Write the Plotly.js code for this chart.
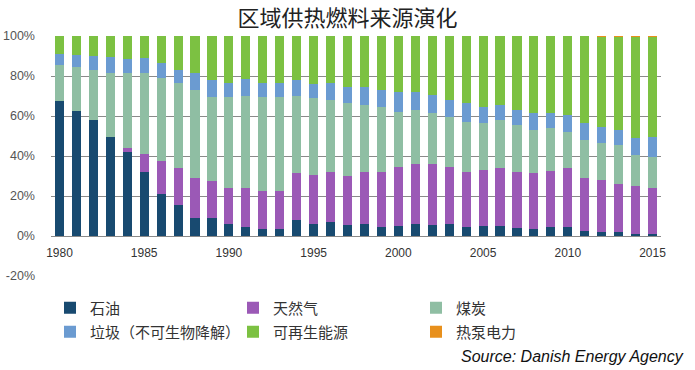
<!DOCTYPE html>
<html>
<head>
<meta charset="utf-8">
<script src="https://cdn.plot.ly/plotly-3.0.1.min.js"></script>
<style>html,body{margin:0;padding:0;background:#fff;}#chart{width:695px;height:370px;}</style>
</head>
<body>
<div id="chart"></div>
<script>
const years = [1980,1981,1982,1983,1984,1985,1986,1987,1988,1989,1990,1991,1992,1993,1994,1995,1996,1997,1998,1999,2000,2001,2002,2003,2004,2005,2006,2007,2008,2009,2010,2011,2012,2013,2014,2015];
const seriesNames = ["石油","天然气","煤炭","垃圾（不可生物降解）","可再生能源","热泵电力"];
const oil      = [67.7,62.5,58.2,49.3,41.8,32.2,20.8,15.3,9.2,9.2,6.2,4.5,3.5,3.5,8.0,5.8,7.2,5.5,6.2,4.7,4.8,5.8,5.5,6.0,4.7,5.2,5.2,3.8,3.5,4.7,4.5,2.5,2.2,1.8,1.0,0.8];
const gas      = [0,0,0,0,2.0,8.8,16.7,18.9,19.6,18.1,17.6,19.3,19.2,18.8,23.3,24.5,24.8,24.7,25.6,27.5,29.9,30.0,30.3,28.5,27.1,27.8,28.6,28.4,27.8,28.0,29.3,26.3,25.8,24.4,23.8,23.4];
const coal     = [17.8,22.2,25.0,32.4,37.5,40.3,41.3,42.1,44.2,42.4,45.9,46.2,47.0,47.4,38.7,38.5,36.0,36.1,33.7,32.1,27.5,27.2,25.5,25.2,25.4,23.3,24.2,23.3,21.7,21.1,18.4,19.2,18.3,19.3,15.7,15.5];
const waste    = [5.5,5.6,6.8,8.0,7.0,7.5,7.5,6.7,8.3,8.3,7.0,8.3,6.6,6.6,8.0,7.2,8.3,8.4,8.8,8.7,10.0,9.2,9.2,8.3,9.1,8.4,7.5,7.5,8.7,7.5,8.3,8.3,8.0,7.5,8.3,10.0];
const renew    = [9.0,9.7,10.0,10.3,11.7,11.2,13.7,17.0,18.7,22.0,23.3,21.7,23.7,23.7,22.0,24.0,23.7,25.3,25.7,27.0,27.8,27.8,29.5,32.0,33.7,35.3,34.5,37.0,38.3,38.7,39.5,43.5,45.2,46.4,50.6,49.7];
const heatpump = [0,0,0,0,0,0,0,0,0,0,0,0,0,0,0,0,0,0,0,0,0,0,0,0,0,0,0,0,0,0,0,0.2,0.5,0.6,0.6,0.6];
const xTicks = [1980,1985,1990,1995,2000,2005,2010,2015];
const yTicks = [-20,0,20,40,60,80,100];
const yTickText = ["-20%","0%","20%","40%","60%","80%","100%"];

const values = [oil, gas, coal, waste, renew, heatpump];
const colors = ["#184a70","#9b59b6","#8fbea3","#6b9bd1","#7cc142","#e8901c"];
const legendIds = ["legend","legend","legend","legend2","legend2","legend2"];

const traces = values.map((v,i)=>({
  type:"bar", x:years, y:v, name:seriesNames[i],
  marker:{color:colors[i], line:{width:0}},
  legend:legendIds[i], hoverinfo:"x+y+name"
}));

const legendFont = {family:"Noto Sans CJK SC, sans-serif", size:15, color:"#333"};
const legendBase = {orientation:"h", xref:"container", yref:"container", x:50/695, xanchor:"left", yanchor:"middle",
          entrywidth:138, entrywidthmode:"pixels", font:legendFont, bgcolor:"rgba(0,0,0,0)", traceorder:"normal"};
const layout = {
  width:695, height:370,
  margin:{l:51, r:34, t:36, b:94, pad:0},
  paper_bgcolor:"#fff", plot_bgcolor:"#fff",
  barmode:"stack", bargap:0.46,
  showlegend:true,
  title:{text:"区域供热燃料来源演化", font:{family:"Noto Sans CJK SC, sans-serif", size:22, color:"#222"},
         x:0.5, xanchor:"center", xref:"container", y:1-18/370, yanchor:"middle", yref:"container"},
  xaxis:{type:"linear", range:[1979.5,2015.5], tickvals:xTicks, ticktext:xTicks.map(String),
         showgrid:false, zeroline:false, showline:false, ticks:"",
         anchor:"free", position:20/120, ticklabelstandoff:8,
         tickfont:{family:"Liberation Sans, Arial, sans-serif", size:12, color:"#333"}},
  yaxis:{range:[-20,100], tickvals:yTicks, ticktext:yTickText, showgrid:true, gridcolor:"#8a8a8a", gridwidth:1,
         zeroline:true, zerolinecolor:"#8a8a8a", zerolinewidth:1, showline:false, ticks:"",
         ticklabelstandoff:15,
         tickfont:{family:"Liberation Sans, Arial, sans-serif", size:12.5, color:"#555"}},
  legend:Object.assign({}, legendBase, {y:1-308/370}),
  legend2:Object.assign({}, legendBase, {y:1-332/370}),
  annotations:[{text:"<i>Source: Danish Energy Agency</i>", xref:"paper", yref:"paper", showarrow:false,
                x:(686-51)/610, xanchor:"right", y:-(356-276)/240, yanchor:"middle",
                font:{family:"Liberation Sans, Arial, sans-serif", size:16, color:"#111"}}]
};
Plotly.newPlot("chart", traces, layout, {displayModeBar:false, staticPlot:true});
</script>
</body>
</html>
